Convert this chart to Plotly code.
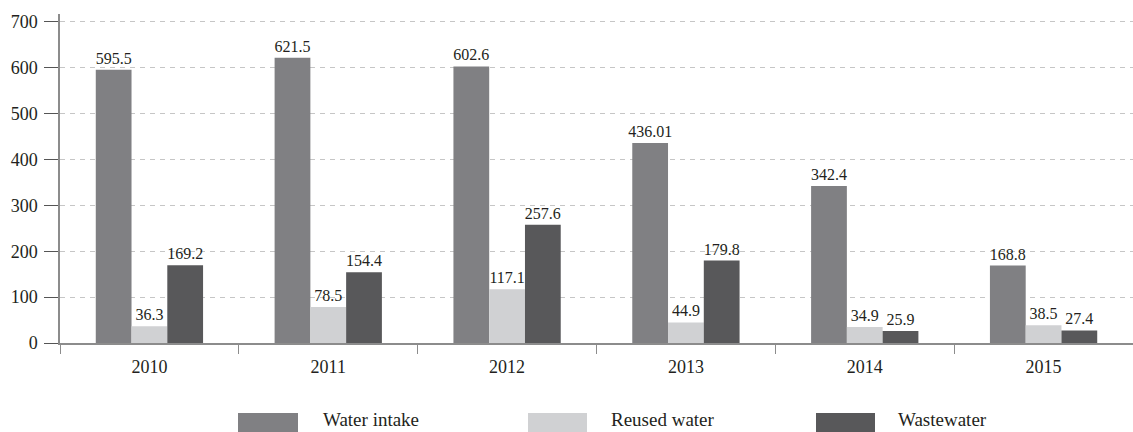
import plotly.graph_objects as go

# Annual water balance (thousand m³), 2010–2015
years = ["2010", "2011", "2012", "2013", "2014", "2015"]
water_intake = [595.5, 621.5, 602.6, 436.01, 342.4, 168.8]
reused_water = [36.3, 78.5, 117.1, 44.9, 34.9, 38.5]
wastewater = [169.2, 154.4, 257.6, 179.8, 25.9, 27.4]
y_ticks = [0, 100, 200, 300, 400, 500, 600, 700]

series = [
    ("Water intake", water_intake, "#808083"),
    ("Reused water", reused_water, "#d0d1d3"),
    ("Wastewater", wastewater, "#58585a"),
]

FONT = "Liberation Serif"
TEXT = "#231f20"
AXIS = "#8c8c8c"

W, H = 1133, 432
M_L, M_R, M_T, M_B = 60, 0, 14, 89
PW, PH = W - M_L - M_R, H - M_T - M_B


def px_x(p):
    return (p - M_L) / PW


def px_y(p):
    return (H - M_B - p) / PH


fig = go.Figure()
for name, vals, color in series:
    fig.add_trace(go.Bar(
        x=years, y=vals, name=name,
        marker=dict(color=color, line=dict(width=0)),
        texttemplate="%{y}", textposition="outside",
        textfont=dict(family=FONT, size=16, color=TEXT),
        constraintext="none", cliponaxis=False,
        showlegend=False,
    ))

# Legend drawn as wide swatches with labels beneath the plot
legend_items = [
    (238, 298, 321),
    (528, 587, 609),
    (816, 875, 896),
]
shapes = []
annotations = []
for (name, _, color), (sx0, sx1, tx) in zip(series, legend_items):
    shapes.append(dict(
        type="rect", xref="paper", yref="paper",
        x0=px_x(sx0), x1=px_x(sx1), y0=px_y(432), y1=px_y(413),
        fillcolor=color, line=dict(width=0), layer="above",
    ))
    annotations.append(dict(
        xref="paper", yref="paper", x=px_x(tx), y=px_y(419.5),
        xanchor="left", yanchor="middle", showarrow=False,
        text=name, font=dict(family=FONT, size=19, color=TEXT),
    ))

fig.update_layout(
    width=W, height=H,
    margin=dict(l=M_L, r=M_R, t=M_T, b=M_B, pad=0),
    paper_bgcolor="white", plot_bgcolor="white",
    barmode="group", bargap=0.4, bargroupgap=0,
    font=dict(family=FONT, size=18, color=TEXT),
    shapes=shapes, annotations=annotations,
    xaxis=dict(
        showline=True, linecolor=AXIS, linewidth=1.5,
        ticks="outside", tickson="boundaries", ticklen=9,
        tickcolor=AXIS, tickwidth=1,
        showgrid=False, zeroline=False,
        tickfont=dict(family=FONT, size=18, color=TEXT),
        ticklabelstandoff=7,
    ),
    yaxis=dict(
        range=[0, 717], tickvals=y_ticks,
        showline=True, linecolor=AXIS, linewidth=1.5,
        ticks="outside", ticklen=14, tickcolor="#555555", tickwidth=1,
        showgrid=True, gridcolor="#c6c6c6", gridwidth=1, griddash="5px,5px",
        zeroline=False,
        tickfont=dict(family=FONT, size=18, color=TEXT),
        ticklabelstandoff=3,
    ),
)

fig.write_html("out.html")
